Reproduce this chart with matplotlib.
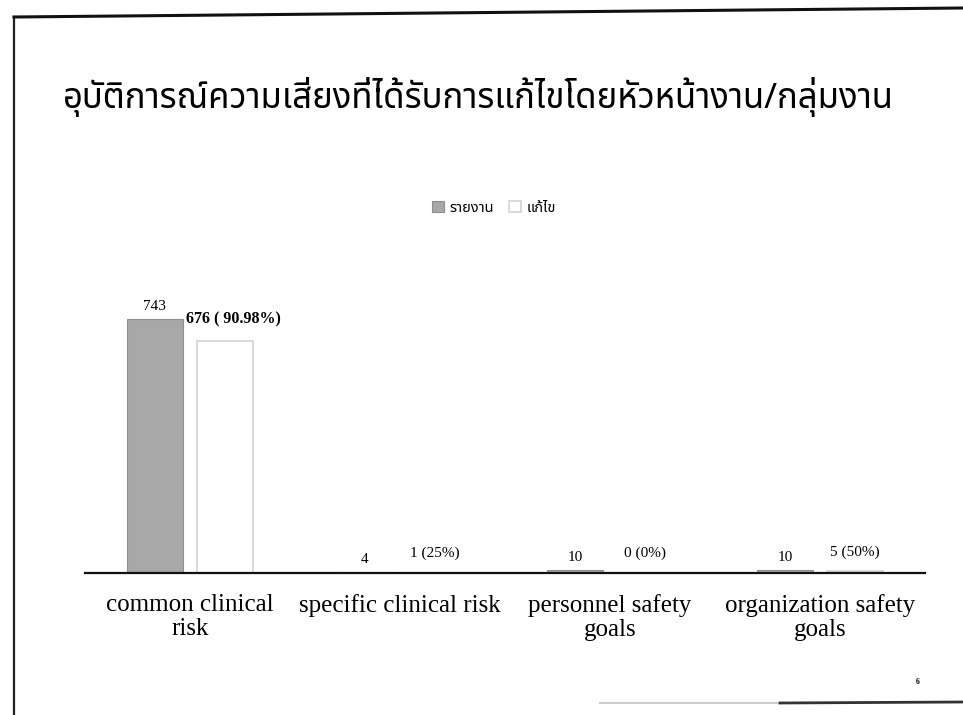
import matplotlib
matplotlib.use('Agg')
import matplotlib.pyplot as plt
from matplotlib import font_manager
from matplotlib.lines import Line2D
import numpy as np

# data
categories = ['common clinical\nrisk', 'specific clinical risk',
              'personnel safety\ngoals', 'organization safety\ngoals']
reported = [743, 4, 10, 10]
fixed = [676, 1, 0, 5]
fixed_labels = ['676 ( 90.98%)', '1 (25%)', '0 (0%)', '5 (50%)']
series_names = ['รายงาน', 'แก้ไข']
title = 'อุบัติการณ์ความเสี่ยงที่ได้รับการแก้ไขโดยหัวหน้างาน/กลุ่มงาน'

# find a font with thai glyphs
thai_fonts = sorted({f.name for f in font_manager.fontManager.ttflist if 'Thai' in f.name})
thai = None
for name in ['Noto Sans Thai', 'Noto Sans Thai Looped', 'Noto Serif Thai']:
    if name in thai_fonts:
        thai = name
        break
if thai is None and thai_fonts:
    thai = thai_fonts[0]
thai_family = [thai, 'DejaVu Sans'] if thai else ['DejaVu Sans']

serif = 'Liberation Serif'

W, H = 963, 715
def px(x, y):
    return x / W, 1 - y / H

fig = plt.figure(figsize=(W / 100, H / 100), dpi=100)
fig.patch.set_facecolor('white')

# axes: baseline at y=573px, x from 85 to 925
ax = fig.add_axes([85 / W, (H - 573) / H, 840 / W, 274 / H])
x = np.arange(len(categories))
w = 0.27
off = 0.167

b1 = ax.bar(x - off, reported, w, color='#a8a8a8', edgecolor='#8f8f8f', linewidth=0.8,
            label=series_names[0], zorder=2)
b2 = ax.bar(x + off, fixed, w, color='white', edgecolor='#d2d2d8', linewidth=1.2,
            label=series_names[1], zorder=2)

ax.set_xlim(-0.5, len(categories) - 0.5)
ax.set_ylim(0, 800)

for xi, v in zip(x, reported):
    ax.annotate(str(v), (xi - off, v), xytext=(0, 4), textcoords='offset points',
                ha='center', va='bottom', fontsize=11, family=serif)

for i, (xi, v, lab) in enumerate(zip(x, fixed, fixed_labels)):
    if i == 0:
        ax.annotate(lab, (xi + off, v), xytext=(6, 10), textcoords='offset points',
                    ha='center', va='bottom', fontsize=11.5, family=serif, fontweight='bold')
    else:
        ax.annotate(lab, (xi + off, v), xytext=(0, 9), textcoords='offset points',
                    ha='center', va='bottom', fontsize=11, family=serif)

for s in ['top', 'right', 'left']:
    ax.spines[s].set_visible(False)
ax.spines['bottom'].set_linewidth(1.6)
ax.spines['bottom'].set_color('#111111')
ax.set_yticks([])
ax.set_xticks(x)
ax.set_xticklabels(categories, fontsize=18, family=serif, linespacing=1.15)
ax.tick_params(axis='x', length=0, pad=15)

# title and legend
fig.text(*px(478, 97), title, ha='center', va='center', fontsize=25, family=thai_family)
leg = fig.legend(handles=[b1, b2], labels=series_names, loc='center',
                 bbox_to_anchor=px(494, 208), ncol=2, frameon=False,
                 prop={'family': thai_family, 'size': 10.5}, handlelength=0.8,
                 handleheight=0.8, handletextpad=0.4, columnspacing=1.0)

# page number
fig.text(*px(918, 682), '6', ha='center', va='center', fontsize=5.5, family=serif,
         fontweight='bold')

# frame of the scanned slide
fig.add_artist(Line2D([px(14, 0)[0], px(14, 0)[0]], [px(0, 17)[1], px(0, 715)[1]],
                      transform=fig.transFigure, color='#222222', lw=1.6))
fig.add_artist(Line2D([px(14, 0)[0], 1.0], [px(0, 17)[1], px(0, 8)[1]],
                      transform=fig.transFigure, color='#111111', lw=2.2))
fig.add_artist(Line2D([px(600, 0)[0], px(780, 0)[0]], [px(0, 703)[1], px(0, 703)[1]],
                      transform=fig.transFigure, color='#cccccc', lw=1.5))
fig.add_artist(Line2D([px(780, 0)[0], 1.0], [px(0, 703)[1], px(0, 702)[1]],
                      transform=fig.transFigure, color='#333333', lw=2.0))

fig.savefig('out.png', dpi=100)
